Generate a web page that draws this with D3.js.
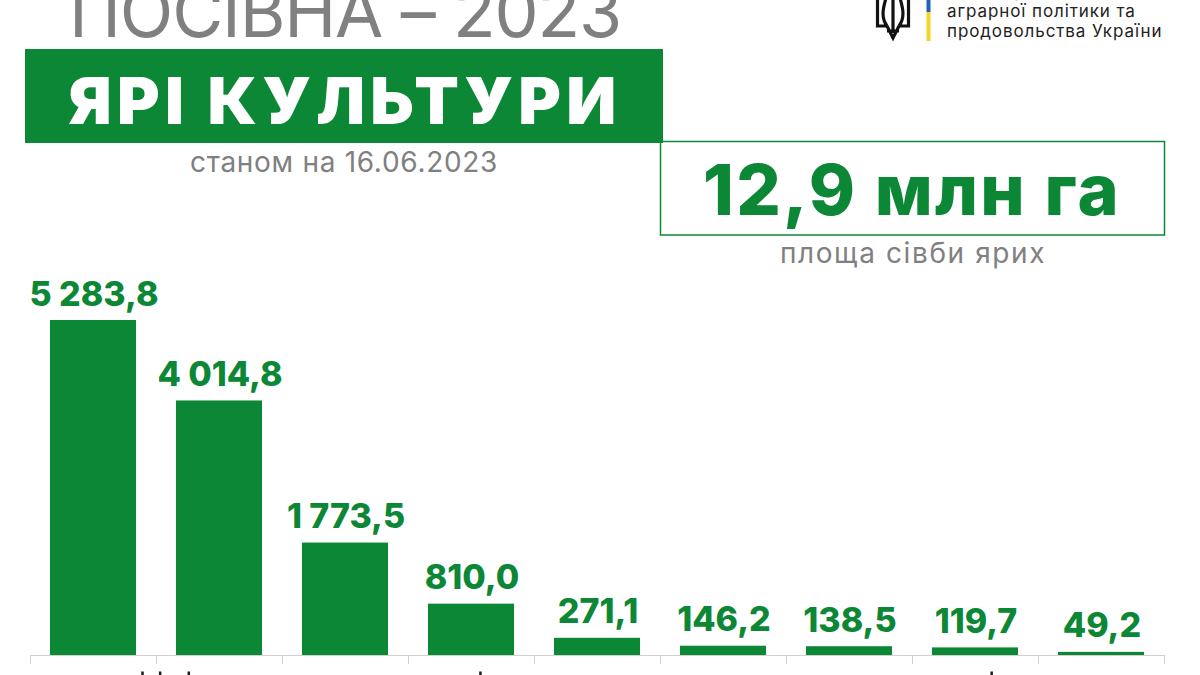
<!DOCTYPE html>
<html lang="uk"><head><meta charset="utf-8">
<script src="https://cdn.jsdelivr.net/npm/d3@7"></script>
<style>
html,body{margin:0;padding:0;background:#fff;overflow:hidden}
svg{display:block}
text{font-family:Inter,"Noto Sans",sans-serif}
</style></head><body>
<svg id="c" width="1200" height="675"></svg>
<script>
const categories = ["Соняшник","Кукурудза","Соя","Ячмінь","Пшениця","Горох","Овес","Гречка","Просо"];
const values = [5283.8,4014.8,1773.5,810.0,271.1,146.2,138.5,119.7,49.2];
const GREEN="#0b8735", GRAY="#808080", DARK="#1d1d1b";
const svg=d3.select("#c");
const loc=d3.formatLocale({decimal:",",thousands:" ",grouping:[3],currency:["",""]});
const fmt=loc.format(",.1f");
const x=d3.scaleBand().domain(categories).range([30,1164]).paddingInner(0.317).paddingOuter(0.1585);
const edges=d3.scaleLinear().domain([0,categories.length]).range([30,1164]);
const y=d3.scaleLinear().domain([0,5283.8]).range([655,320]);

function txt(s,px,py,size,weight,fill,anchor,spacing){
  return svg.append("text").text(s).attr("x",px).attr("y",py).attr("font-size",size)
    .attr("font-weight",weight).attr("fill",fill).attr("text-anchor",anchor||"middle")
    .attr("letter-spacing",spacing||0);
}
txt("ПОСІВНА – 2023",345,37,70,400,GRAY,"middle",-1.2);
svg.append("rect").attr("x",25).attr("y",49).attr("width",638).attr("height",94).attr("fill",GREEN);
txt("ЯРІ КУЛЬТУРИ",345,124,65,900,"#fff","middle",5.3);
txt("станом на 16.06.2023",344,172,28,400,GRAY,"middle",0.7);
svg.append("rect").attr("x",660.5).attr("y",141.5).attr("width",504).attr("height",93.5).attr("fill","none").attr("stroke",GREEN).attr("stroke-width",1.5);
txt("12,9 млн га",912,215,70,800,GREEN,"middle",2.2);
txt("площа сівби ярих",913,263,28,400,GRAY,"middle",1.6);

// header logo
const t=svg.append("g").attr("fill","none").attr("stroke","#111").attr("stroke-width",3.2);
t.append("path").attr("d","M877.5 -2V26H887M908.5 -2V26H899M887 26C880 16 884 6 886 -2M899 26C906 16 902 6 900 -2M893 -2V33M887 26L893 38L899 26M887 31H899");
svg.append("rect").attr("x",926.5).attr("y",0).attr("width",4).attr("height",12).attr("fill","#1f63b5");
svg.append("rect").attr("x",926.5).attr("y",12).attr("width",4).attr("height",29).attr("fill","#f5d327");
["Міністерство","аграрної політики та","продовольства України"].forEach((s,i)=>
  txt(s,947,-3+i*20,17,400,"#222","start",0.9));

// axis
svg.append("g").attr("transform","translate(0,655)")
  .call(d3.axisBottom(edges).tickValues(d3.range(categories.length+1)).tickSize(9).tickFormat(""))
  .call(g=>g.selectAll("path,line").attr("stroke","#d0d0d0").attr("stroke-width",1));

// bars
svg.selectAll("rect.bar").data(values).join("rect").attr("class","bar")
  .attr("x",(d,i)=>x(categories[i])).attr("width",x.bandwidth())
  .attr("y",d=>y(d)).attr("height",d=>y(0)-y(d)).attr("fill",GREEN);
svg.selectAll("text.val").data(values).join("text").attr("class","val")
  .attr("x",(d,i)=>x(categories[i])+x.bandwidth()/2+1).attr("y",d=>y(d)-14.5)
  .attr("text-anchor","middle").attr("font-size",34).attr("font-weight",800)
  .attr("fill",GREEN).text(d=>fmt(d));

// category labels: cropped by the bottom edge of the picture
const labels=svg.selectAll("text.cat").data(categories).join("text").attr("class","cat")
  .attr("x",d=>x(d)+x.bandwidth()/2).attr("y",695).attr("text-anchor","middle")
  .attr("font-size",24).attr("fill",DARK).text(d=>d);
// the reference font's к and і rise above the line; only those tips are left in the frame
labels.each(function(d){
  [...d].forEach((ch,i)=>{
    if("кКі".includes(ch)){
      const p=this.getStartPositionOfChar(i);
      svg.append("rect").attr("x",p.x+1).attr("y",671.5).attr("width",2.5).attr("height",4).attr("fill",DARK);
    }
  });
});
</script></body></html>
